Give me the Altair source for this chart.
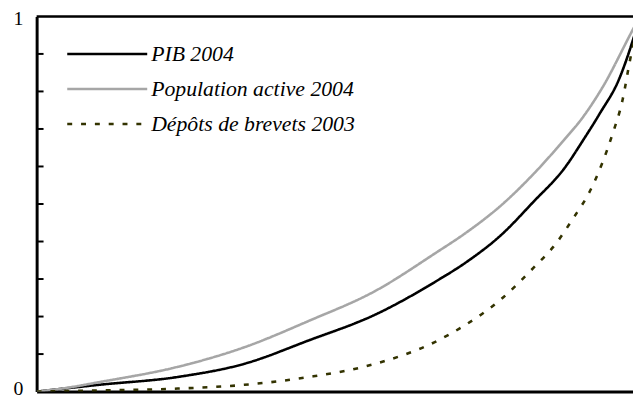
import altair as alt
import pandas as pd

# Series (Lorenz-type curves)
pib_x = [0, 0.103, 0.234, 0.344, 0.452, 0.561, 0.660, 0.714, 0.769, 0.823, 0.877, 0.905, 0.933, 0.966, 0.987, 1.0]
pib_y = [0, 0.018, 0.039, 0.074, 0.137, 0.205, 0.292, 0.347, 0.416, 0.505, 0.600, 0.668, 0.740, 0.835, 0.930, 1.0]

pop_x = [0, 0.05, 0.103, 0.234, 0.344, 0.452, 0.561, 0.660, 0.714, 0.769, 0.823, 0.877, 0.902, 0.938, 0.987, 1.0]
pop_y = [0, 0.010, 0.025, 0.066, 0.118, 0.189, 0.268, 0.368, 0.426, 0.495, 0.579, 0.676, 0.724, 0.811, 0.961, 1.0]

brev_x = [0, 0.103, 0.234, 0.344, 0.452, 0.561, 0.660, 0.704, 0.769, 0.823, 0.861, 0.889, 0.917, 0.938, 0.954, 0.971, 0.984, 1.0]
brev_y = [0, 0.003, 0.008, 0.018, 0.039, 0.074, 0.132, 0.171, 0.245, 0.329, 0.395, 0.461, 0.534, 0.611, 0.684, 0.776, 0.887, 1.0]

series_names = ["PIB 2004", "Population active 2004", "Dépôts de brevets 2003"]
series_colors = ["#000000", "#a6a6a6", "#333300"]
series_dash = [[1, 0], [1, 0], [5, 9]]

minor_ticks = [0.1, 0.2, 0.3, 0.4, 0.5, 0.6, 0.7, 0.8, 0.9]
y_labels = [0, 1]

rows = []
for name, xs, ys in zip(series_names, [pib_x, pop_x, brev_x], [pib_y, pop_y, brev_y]):
    for i, (a, b) in enumerate(zip(xs, ys)):
        rows.append({"serie": name, "x": a, "y": b, "o": i})
df = pd.DataFrame(rows)

xscale = alt.Scale(domain=[0, 0.9885], nice=False, zero=False)
yscale = alt.Scale(domain=[0, 1], nice=False)
FONT = "Liberation Serif"

lines = []
for name, col, dash in zip(series_names, series_colors, series_dash):
    lines.append(
        alt.Chart(df).transform_filter(alt.datum.serie == name).mark_line(
            color=col, strokeWidth=2.6, strokeDash=dash, interpolate="monotone", clip=True
        ).encode(
            x=alt.X("x:Q", scale=xscale, axis=alt.Axis(labels=False, ticks=False, title=None,
                                                       domainColor="black", domainWidth=3, grid=False)),
            y=alt.Y("y:Q", scale=yscale, axis=alt.Axis(values=y_labels, ticks=False, title=None,
                                                       domainColor="black", domainWidth=3, grid=False,
                                                       labelFont=FONT, labelFontSize=20, labelColor="black",
                                                       labelPadding=14, format="d",
                                                       labelOffset={"condition": {"test": "datum.value == 0", "value": -3},
                                                                    "value": 2})),
            order="o:Q",
        )
    )

top_rule = alt.Chart(pd.DataFrame({"v": [1]})).mark_rule(color="black", strokeWidth=2.5).encode(
    y=alt.Y("v:Q", scale=yscale)
)

ticks = alt.Chart(pd.DataFrame({"t": minor_ticks})).mark_rule(color="black", strokeWidth=2).encode(
    y=alt.Y("t:Q", scale=yscale), x=alt.value(0), x2=alt.value(7)
)

leg = pd.DataFrame({"serie": series_names, "idx": [0, 1, 2]})
leg_base = alt.Chart(leg).transform_calculate(py="38 + 35.5 * datum.idx")
leg_lines = []
for name, col, dash in zip(series_names, series_colors, series_dash):
    leg_lines.append(
        leg_base.transform_filter(alt.datum.serie == name).mark_rule(
            color=col, strokeWidth=2.6, strokeDash=dash
        ).encode(x=alt.value(31), x2=alt.value(112), y=alt.Y("py:Q", scale=None))
    )
leg_text = leg_base.mark_text(
    align="left", baseline="middle", font=FONT, fontStyle="italic", fontSize=22, color="black"
).encode(x=alt.value(116), y=alt.Y("py:Q", scale=None), text="serie:N")

chart = alt.layer(*lines, top_rule, ticks, *leg_lines, leg_text).properties(
    width=604, height=380,
    padding={"left": 29, "top": 6, "right": 0, "bottom": 5},
    autosize=alt.AutoSizeParams(type="none"),
).configure_view(stroke=None).configure(background="white")

chart.save("out.html", embed_options={"renderer": "svg", "actions": False})
